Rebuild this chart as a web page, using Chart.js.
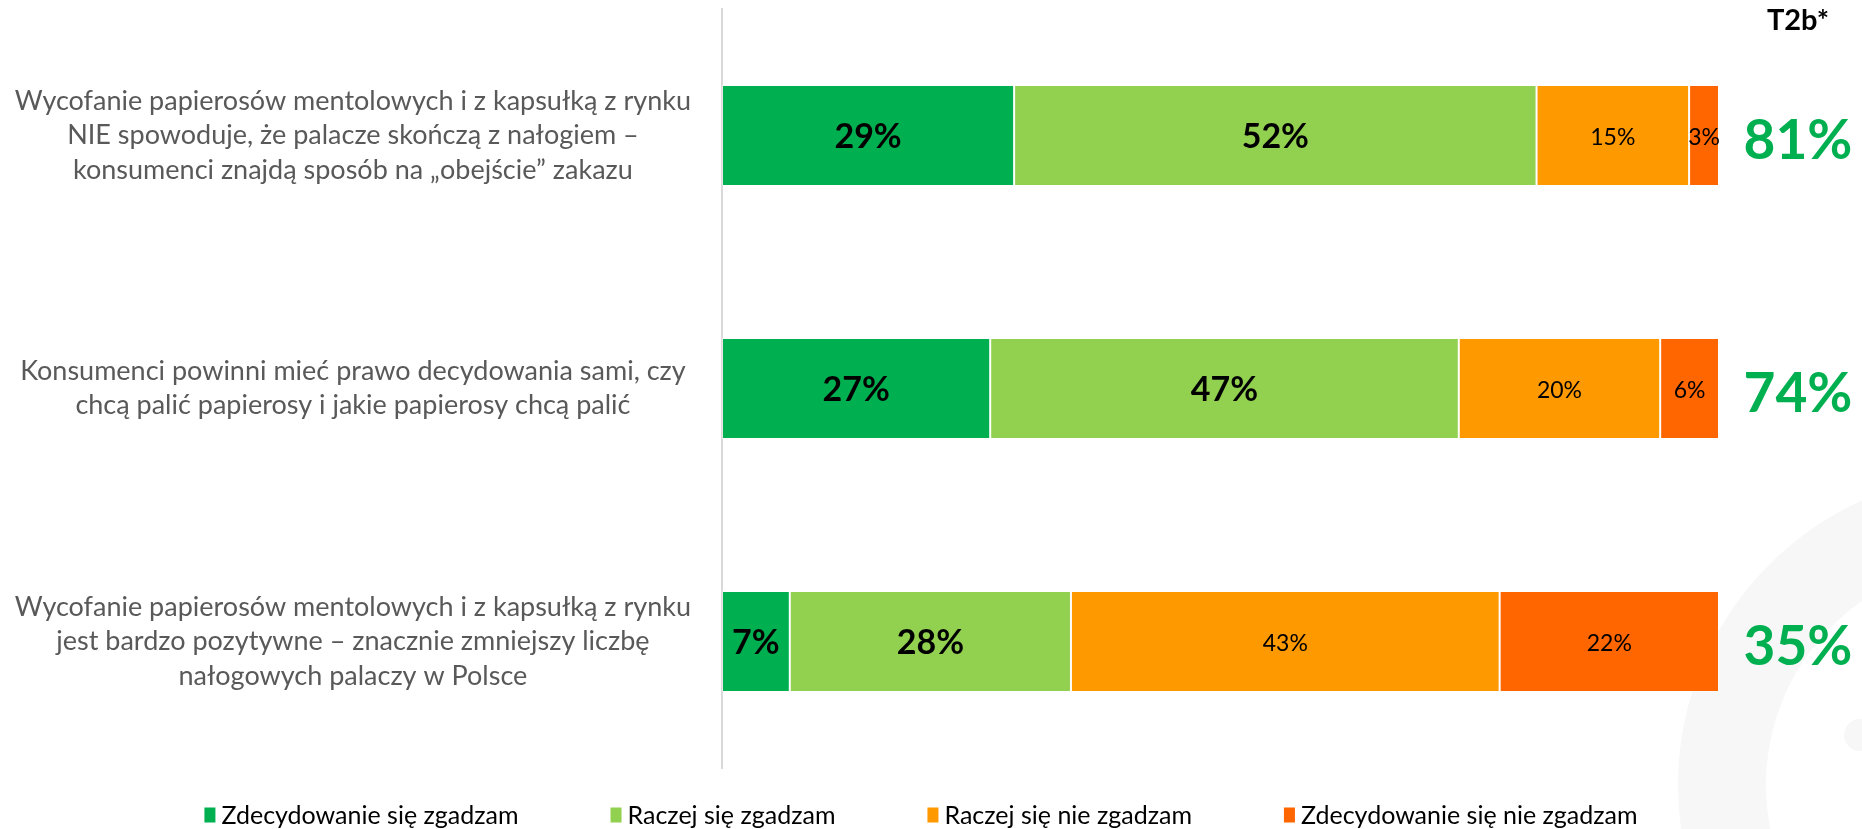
<!DOCTYPE html>
<html>
<head>
<meta charset="utf-8">
<script src="https://cdn.jsdelivr.net/npm/chart.js"></script>
<style>
  html, body { margin: 0; padding: 0; background: #fff; }
  #wrap { width: 1862px; height: 829px; position: relative; }
</style>
</head>
<body>
<div id="wrap"><canvas id="chart"></canvas></div>
<script>
// statements (y categories), one array of lines each
const statements = [
  ['Wycofanie papierosów mentolowych i z kapsułką z rynku', 'NIE spowoduje, że palacze skończą z nałogiem –', 'konsumenci znajdą sposób na „obejście” zakazu'],
  ['Konsumenci powinni mieć prawo decydowania sami, czy', 'chcą palić papierosy i jakie papierosy chcą palić'],
  ['Wycofanie papierosów mentolowych i z kapsułką z rynku', 'jest bardzo pozytywne – znacznie zmniejszy liczbę', 'nałogowych palaczy w Polsce']
];

const seriesNames = ['Zdecydowanie się zgadzam', 'Raczej się zgadzam', 'Raczej się nie zgadzam', 'Zdecydowanie się nie zgadzam'];
const seriesColors = ['#00B050', '#92D050', '#FF9900', '#FF6600'];

// shares in %
const strongAgree    = [29.3, 26.9, 6.8];
const ratherAgree    = [52.4, 47.0, 28.2];
const ratherDisagree = [15.3, 20.2, 43.0];
const strongDisagree = [3.0, 5.9, 22.0];

// top-2-box column
const t2bTitle = 'T2b*';
const t2bValues = [81, 74, 35];

const FONT = 'Lato, "Open Sans", sans-serif';

// faint ring in the corner (background decoration)
const watermark = {
  id: 'watermark',
  beforeDraw(chart) {
    const ctx = chart.ctx;
    ctx.save();
    ctx.strokeStyle = '#f7f7f7';
    ctx.lineWidth = 88;
    ctx.beginPath();
    ctx.arc(1990, 785, 268, 0, Math.PI * 2);
    ctx.stroke();
    ctx.fillStyle = '#f7f7f7';
    ctx.beginPath();
    ctx.arc(1860, 735, 16, 0, Math.PI * 2);
    ctx.fill();
    ctx.restore();
  }
};

// percentages on bars + T2b column
const barLabels = {
  id: 'barLabels',
  afterDatasetsDraw(chart) {
    const ctx = chart.ctx;
    const area = chart.chartArea;
    ctx.save();
    ctx.textAlign = 'center';
    ctx.textBaseline = 'middle';
    chart.data.datasets.forEach((ds, i) => {
      const meta = chart.getDatasetMeta(i);
      ctx.font = i < 2 ? 'bold 34px ' + FONT : '23px ' + FONT;
      ctx.fillStyle = '#000';
      meta.data.forEach((bar, j) => {
        const cx = (bar.x + bar.base) / 2;
        ctx.fillText(Math.round(ds.data[j]) + '%', cx, bar.y + 2);
      });
    });

    const colX = area.right + 79;
    ctx.font = 'bold 29px ' + FONT;
    ctx.fillStyle = '#000';
    ctx.fillText(t2bTitle, colX, area.top + 12);

    ctx.font = 'bold 55px ' + FONT;
    ctx.fillStyle = '#00B050';
    const meta0 = chart.getDatasetMeta(0);
    meta0.data.forEach((bar, j) => {
      ctx.fillText(t2bValues[j] + '%', colX, bar.y + 6);
    });
    ctx.restore();
  }
};

// bottom legend with tight box/text gap and wide spacing
const bottomLegend = {
  id: 'bottomLegend',
  afterDraw(chart) {
    const ctx = chart.ctx;
    const boxW = 11, boxH = 15, gap = 6, spacing = 92;
    ctx.save();
    ctx.font = '25px ' + FONT;
    ctx.textBaseline = 'middle';
    ctx.textAlign = 'left';
    const items = chart.data.datasets.map(ds => ({
      text: ds.label, color: ds.backgroundColor,
      w: boxW + gap + ctx.measureText(ds.label).width
    }));
    const total = items.reduce((s, it) => s + it.w, 0) + spacing * (items.length - 1);
    let x = chart.width / 2 - 10 - total / 2;
    const y = 815;
    items.forEach(it => {
      ctx.fillStyle = it.color;
      ctx.fillRect(x, y - boxH / 2, boxW, boxH);
      ctx.fillStyle = '#000';
      ctx.fillText(it.text, x + boxW + gap, y + 1);
      x += it.w + spacing;
    });
    ctx.restore();
  }
};

const seriesData = [strongAgree, ratherAgree, ratherDisagree, strongDisagree];

new Chart(document.getElementById('chart'), {
  type: 'bar',
  data: {
    labels: statements,
    datasets: seriesNames.map((name, i) => ({
      label: name,
      data: seriesData[i],
      backgroundColor: seriesColors[i],
      borderColor: 'rgba(255,255,255,0.4)',
      borderWidth: 1,
      borderSkipped: false,
      barPercentage: 0.4,
      categoryPercentage: 1.0
    }))
  },
  options: {
    indexAxis: 'y',
    responsive: true,
    maintainAspectRatio: false,
    animation: false,
    layout: { padding: { top: 9, right: 143, bottom: 61, left: 0 } },
    plugins: {
      legend: { display: false },
      tooltip: { enabled: false }
    },
    scales: {
      x: {
        stacked: true,
        min: 0,
        max: 100,
        display: false
      },
      y: {
        stacked: true,
        afterFit(scale) {
          scale.width = 722;
          scale.paddingTop = 0;
          scale.paddingBottom = 0;
        },
        grid: { display: false, drawTicks: false },
        border: { display: true, color: '#d9d9d9', width: 2 },
        ticks: {
          crossAlign: 'center',
          padding: 31,
          color: '#595959',
          font: { family: FONT, size: 27, lineHeight: 1.28 }
        }
      }
    }
  },
  plugins: [watermark, barLabels, bottomLegend]
});
</script>
</body>
</html>
